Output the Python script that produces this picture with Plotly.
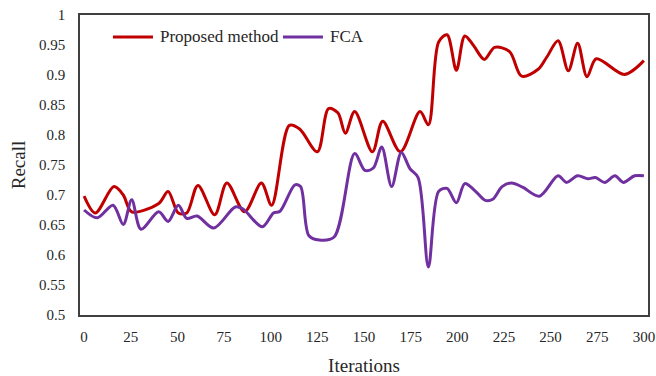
import plotly.graph_objects as go

# Recall per iteration for each method
prop_iter = [0, 6, 16, 21, 25.5, 40, 45, 50.5, 55, 61, 70, 76.5, 86, 95, 100.5,
             110, 115.5, 125, 131, 136, 140, 145, 154.5, 160, 169.5, 180, 184.5,
             190, 194.5, 199.5, 204, 208.5, 214.5, 220, 228, 234.5, 243.5, 248,
             254, 259.5, 264.5, 269.5, 274.5, 289.5, 300]
prop_recall = [0.698, 0.670, 0.714, 0.700, 0.672, 0.686, 0.706, 0.670, 0.670, 0.716,
               0.667, 0.720, 0.672, 0.720, 0.683, 0.816, 0.810, 0.772, 0.844, 0.837,
               0.803, 0.839, 0.772, 0.823, 0.772, 0.839, 0.817, 0.955, 0.967, 0.908,
               0.965, 0.950, 0.926, 0.946, 0.939, 0.898, 0.910, 0.930, 0.957, 0.907,
               0.953, 0.897, 0.927, 0.901, 0.924]

fca_iter = [0, 7, 15.5, 21, 25.5, 30.5, 40, 45, 50.5, 55, 60.5, 69.5, 81, 85, 95.5,
            101.5, 105, 113, 116, 120.5, 126, 134, 145, 150.5, 155, 159.5, 164.8,
            170, 174.6, 179, 184.5, 190, 194.5, 199.5, 204, 209.5, 215, 219, 224,
            229, 235, 244, 254, 258.5, 264.5, 270, 274, 279, 284.5, 289, 295, 300]
fca_recall = [0.675, 0.662, 0.683, 0.651, 0.692, 0.643, 0.672, 0.656, 0.683, 0.661,
              0.665, 0.645, 0.680, 0.677, 0.647, 0.670, 0.673, 0.717, 0.714, 0.632,
              0.625, 0.630, 0.769, 0.741, 0.745, 0.780, 0.714, 0.771, 0.744, 0.729,
              0.580, 0.706, 0.711, 0.687, 0.719, 0.707, 0.691, 0.693, 0.714, 0.720,
              0.713, 0.698, 0.732, 0.721, 0.732, 0.727, 0.729, 0.721, 0.732, 0.721,
              0.732, 0.732]

series_names = ["Proposed method", "FCA"]
series_colors = ["#C00000", "#7030A0"]

y_ticks = [0.5, 0.55, 0.6, 0.65, 0.7, 0.75, 0.8, 0.85, 0.9, 0.95, 1.0]
y_tick_text = ["0.5", "0.55", "0.6", "0.65", "0.7", "0.75", "0.8", "0.85", "0.9", "0.95", "1"]
x_ticks = [0, 25, 50, 75, 100, 125, 150, 175, 200, 225, 250, 275, 300]

FONT = "Liberation Serif, Times New Roman, serif"
TEXT_COLOR = "#262626"
AXIS_COLOR = "#404040"

fig = go.Figure()
for xs, ys, name, color in zip([prop_iter, fca_iter], [prop_recall, fca_recall],
                               series_names, series_colors):
    fig.add_trace(go.Scatter(
        x=xs, y=ys, mode="lines", name=name, showlegend=False,
        line=dict(color=color, width=3, shape="spline", smoothing=0.9),
    ))

# Legend drawn inside the plot frame: long line swatch followed by its label
legend_y = 0.927
legend_entries = [(0.058, 0.1285, 0.137), (0.3574, 0.4278, 0.4366)]
for (x0, x1, xt), name, color in zip(legend_entries, series_names, series_colors):
    fig.add_shape(type="line", xref="paper", yref="paper", x0=x0, x1=x1,
                  y0=legend_y, y1=legend_y, line=dict(color=color, width=3))
    fig.add_annotation(xref="paper", yref="paper", x=xt, y=legend_y, text=name,
                       showarrow=False, xanchor="left", yanchor="middle",
                       font=dict(family=FONT, size=17, color=TEXT_COLOR))

fig.update_layout(
    width=656, height=376,
    margin=dict(l=80, r=8, t=15, b=61),
    paper_bgcolor="white", plot_bgcolor="white",
    font=dict(family=FONT, size=15, color=TEXT_COLOR),
    showlegend=False,
    xaxis=dict(
        range=[-2.2, 302.2], tickvals=x_ticks, showgrid=False, zeroline=False,
        showline=True, linecolor=AXIS_COLOR, linewidth=1.5, mirror=True,
        ticks="", ticklabelstandoff=7, automargin=False,
        tickfont=dict(family=FONT, size=15, color=TEXT_COLOR),
        title=dict(text="Iterations", font=dict(family=FONT, size=19, color=TEXT_COLOR),
                   standoff=18),
    ),
    yaxis=dict(
        range=[0.5, 1.0], tickvals=y_ticks, ticktext=y_tick_text, showgrid=False,
        zeroline=False, showline=True, linecolor=AXIS_COLOR, linewidth=1.5,
        mirror=True, ticks="", ticklabelstandoff=10, automargin=False,
        tickfont=dict(family=FONT, size=15, color=TEXT_COLOR),
        title=dict(text="Recall", font=dict(family=FONT, size=19, color=TEXT_COLOR),
                   standoff=8),
    ),
)

fig.write_html("out.html")
